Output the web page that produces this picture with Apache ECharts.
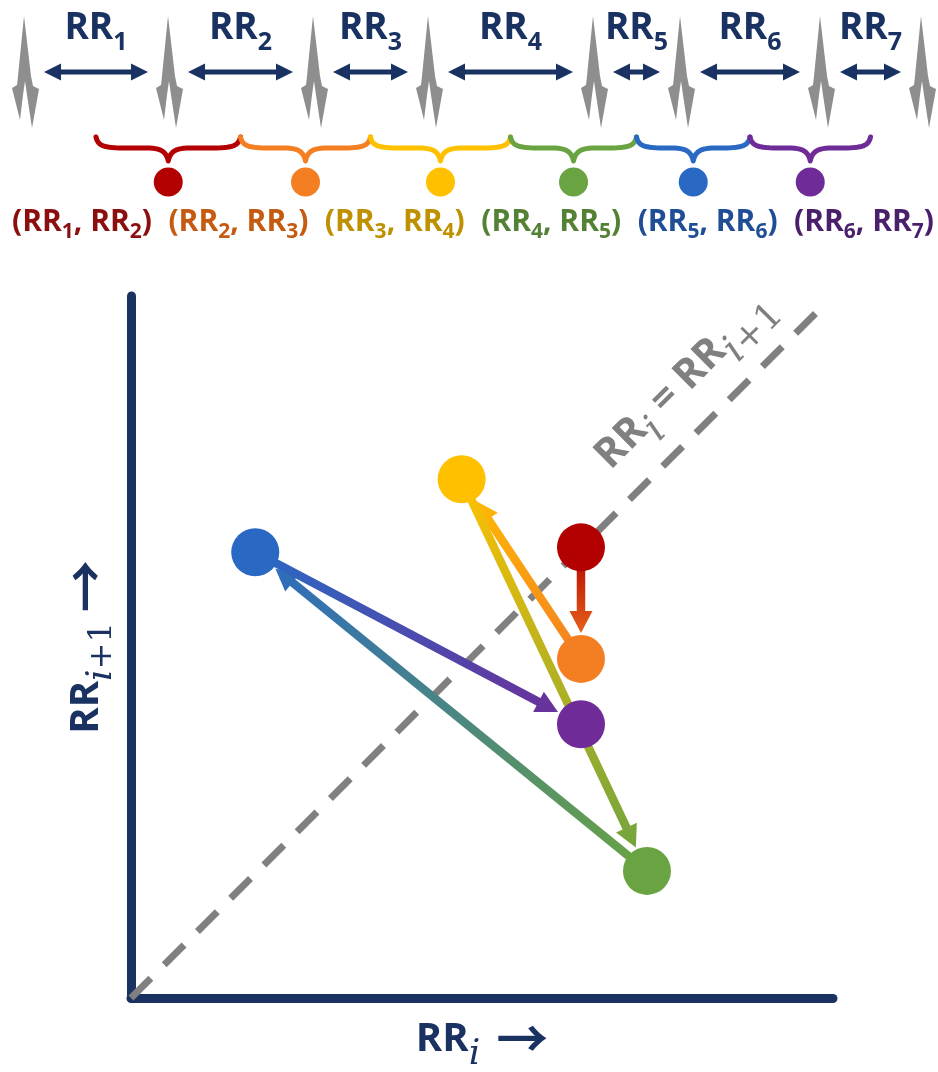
<!DOCTYPE html>
<html><head><meta charset="utf-8">
<script src="https://cdn.jsdelivr.net/npm/echarts@6/dist/echarts.min.js"></script>
<style>html,body{margin:0;padding:0;background:#fff}#chart{width:938px;height:1072px}</style>
</head><body><div id="chart"></div>
<script>
// ---------------- data ----------------
const beatTimes = [24, 168, 313, 428, 593, 680, 820, 921];       // R-peak positions on the ECG strip
const rrIndex = ['1', '2', '3', '4', '5', '6', '7'];               // RR interval numbers
const pairIndex = [['1','2'], ['2','3'], ['3','4'], ['4','5'], ['5','6'], ['6','7']];
const pairX = [6.41, 6.41, 4.71, 7.35, 1.77, 6.41];               // RR_i
const pairY = [6.42, 4.83, 7.39, 1.81, 6.35, 3.90];               // RR_{i+1}
const identityLine = [[0, 0], [9.8, 9.8]];                         // RR_i = RR_{i+1}
const labelAnchor = [[8.34, 8.34]];

// ---------------- styles ----------------
const dotColors  = ['#B30000', '#F47F22', '#FFC000', '#6AA342', '#2A69C3', '#6F2C98'];
const textColors = ['#8C0F0F', '#C55A11', '#BF9000', '#548235', '#1F4E96', '#4A1F6B'];
const NAVY = '#1A3261', SPIKE_GRAY = '#8E8E8E', DIAG_GRAY = '#808080';
const FONT = "'Open Sans', 'Noto Sans', sans-serif";
const SERIF = "'DejaVu Serif', 'Liberation Serif', serif";
const ARROWF = "'Noto Sans CJK SC', 'DejaVu Sans', sans-serif";

const SPIKE = [[0,16],[7,76],[9,86],[15,89],[8,128],[3,95],[1,81],[-1,95],[-4,120],[-12,88],[-7,85],[-6,76]];

function cubic(p0, p1, p2, p3, n) {
  const out = [];
  for (let k = 0; k <= n; k++) {
    const t = k / n, u = 1 - t;
    out.push([u*u*u*p0[0] + 3*u*u*t*p1[0] + 3*u*t*t*p2[0] + t*t*t*p3[0],
              u*u*u*p0[1] + 3*u*u*t*p1[1] + 3*u*t*t*p2[1] + t*t*t*p3[1]]);
  }
  return out;
}
function bracePts(x0, x1, top, flat, tip) {
  const xm = (x0 + x1) / 2;
  return [
    ...cubic([x0, top], [x0 + 2, flat - 1], [x0 + 10, flat], [x0 + 32, flat], 14),
    ...cubic([xm - 22, flat], [xm - 8, flat], [xm - 2, flat + 3], [xm, tip], 12),
    ...cubic([xm, tip], [xm + 2, flat + 3], [xm + 8, flat], [xm + 22, flat], 12),
    ...cubic([x1 - 32, flat], [x1 - 10, flat], [x1 - 2, flat - 1], [x1, top], 14)
  ];
}

const RICH_TOP = {
  a: {fontFamily: FONT, fontWeight: 'bold', fontSize: 37, verticalAlign: 'top', fill: NAVY},
  s: {fontFamily: FONT, fontWeight: 'bold', fontSize: 25, padding: [20, 0, 0, 0], verticalAlign: 'top', fill: NAVY}
};
const RICH_PAIR = {
  p: {fontFamily: FONT, fontWeight: 'bold', fontSize: 30, verticalAlign: 'top'},
  s: {fontFamily: FONT, fontWeight: 'bold', fontSize: 21, padding: [15, 0, 0, 0], verticalAlign: 'top'}
};
const RICH_DIAG = {
  a: {fontFamily: FONT, fontWeight: 'bold', fontSize: 41, verticalAlign: 'top', fill: DIAG_GRAY},
  i: {fontFamily: SERIF, fontStyle: 'italic', fontSize: 40, padding: [16, 0, 0, 0], verticalAlign: 'top', fill: DIAG_GRAY},
  n: {fontFamily: SERIF, fontSize: 36, padding: [19, 0, 0, 0], verticalAlign: 'top', fill: DIAG_GRAY}
};
function axisRich(gapW) {
  return {
    a: {fontFamily: FONT, fontWeight: 'bold', fontSize: 40, color: NAVY, padding: [9, 0, 0, 0], verticalAlign: 'top'},
    i: {fontFamily: SERIF, fontStyle: 'italic', fontSize: 36, color: NAVY, padding: [26, 0, 0, 0], verticalAlign: 'top'},
    n: {fontFamily: SERIF, fontSize: 32, color: NAVY, padding: [29, 0, 0, 0], verticalAlign: 'top'},
    g: {width: gapW, fontSize: 36, verticalAlign: 'top'},
    r: {fontFamily: ARROWF, fontWeight: 'bold', fontSize: 52, color: NAVY, padding: [1, 0, 0, 0], verticalAlign: 'top'}
  };
}

const mids = beatTimes.slice(0, -1).map((t, i) => (t + beatTimes[i + 1]) / 2);
const rrData = beatTimes.slice(0, -1).map((t, i) => [t, beatTimes[i + 1]]);
const braceData = mids.slice(0, -1).map((m, i) => [m, mids[i + 1]]);
const arrowData = pairX.slice(0, -1).map((x, i) => [pairX[i], pairY[i], pairX[i + 1], pairY[i + 1]]);
const dotData = pairX.map((x, i) => ({value: [x, pairY[i]], itemStyle: {color: dotColors[i], opacity: 1}}));

const chart = echarts.init(document.getElementById('chart'), null, {renderer: 'canvas'});

const option = {
  animation: false,
  backgroundColor: '#ffffff',
  grid: [
    {left: 0, top: 0, width: 938, height: 260, outerBoundsMode: 'none'},
    {left: 131, top: 296, width: 702, height: 702, outerBoundsMode: 'none'}
  ],
  xAxis: [
    {gridIndex: 0, type: 'value', min: 0, max: 938, show: false},
    {gridIndex: 1, type: 'value', min: 0, max: 10,
     axisLine: {show: true, onZero: false, lineStyle: {color: NAVY, width: 9}},
     axisTick: {show: false}, axisLabel: {show: false}, splitLine: {show: false},
     name: '{a|RR}{i|i}{g| }{r|→}', nameLocation: 'middle', nameGap: 13,
     nameTextStyle: {rich: axisRich(16)}}
  ],
  yAxis: [
    {gridIndex: 0, type: 'value', min: 0, max: 260, inverse: true, show: false},
    {gridIndex: 1, type: 'value', min: 0, max: 10,
     axisLine: {show: true, onZero: false, lineStyle: {color: NAVY, width: 9}},
     axisTick: {show: false}, axisLabel: {show: false}, splitLine: {show: false},
     name: '{a|RR}{i|i}{n|+1}{g| }{r|→}', nameLocation: 'middle', nameRotate: 90, nameGap: 11,
     nameTextStyle: {rich: axisRich(10)}}
  ],
  series: [
    // ECG spikes
    {type: 'custom', xAxisIndex: 0, yAxisIndex: 0, silent: true,
     data: beatTimes.map(t => [t, 0]),
     renderItem(params, api) {
       const p = api.coord([api.value(0), 0]);
       return {type: 'polygon', shape: {points: SPIKE.map(([dx, dy]) => [p[0] + dx, p[1] + dy])},
               style: {fill: SPIKE_GRAY}};
     }},
    // RR double arrows + labels
    {type: 'custom', xAxisIndex: 0, yAxisIndex: 0, silent: true,
     data: rrData,
     renderItem(params, api) {
       const a = api.coord([api.value(0), 72]), b = api.coord([api.value(1), 72]);
       const y = a[1], gap = 20, hl = 17, hw = 8.5;
       const x0 = a[0] + gap, x1 = b[0] - gap;
       const n = rrIndex[params.dataIndex];
       const top = api.coord([0, 10])[1];
       return {type: 'group', children: [
         {type: 'line', shape: {x1: x0 + hl - 1, y1: y, x2: x1 - hl + 1, y2: y}, style: {stroke: NAVY, lineWidth: 5}},
         {type: 'polygon', shape: {points: [[x0, y], [x0 + hl, y - hw], [x0 + hl, y + hw]]}, style: {fill: NAVY}},
         {type: 'polygon', shape: {points: [[x1, y], [x1 - hl, y - hw], [x1 - hl, y + hw]]}, style: {fill: NAVY}},
         {type: 'text', x: (x0 + x1) / 2, y: top,
          style: {text: '{a|RR}{s|' + n + '}', align: 'center', verticalAlign: 'top', fill: NAVY, rich: RICH_TOP}}
       ]};
     }},
    // braces, dots and pair labels
    {type: 'custom', xAxisIndex: 0, yAxisIndex: 0, silent: true,
     data: braceData,
     renderItem(params, api) {
       const i = params.dataIndex;
       const a = api.coord([api.value(0), 137]), b = api.coord([api.value(1), 137]);
       const flat = api.coord([0, 148])[1], tip = api.coord([0, 161])[1];
       const xm = (a[0] + b[0]) / 2;
       const cy = api.coord([0, 182])[1];
       const ly = api.coord([0, 207])[1];
       const lx = 82 + i * 156.4;
       const [p1, p2] = pairIndex[i];
       return {type: 'group', children: [
         {type: 'polyline', shape: {points: bracePts(a[0], b[0], a[1], flat, tip)},
          style: {stroke: dotColors[i], lineWidth: 5, lineJoin: 'round', lineCap: 'round', fill: null}},
         {type: 'circle', shape: {cx: xm, cy: cy, r: 14.5}, style: {fill: dotColors[i]}},
         {type: 'text', x: lx, y: ly,
          style: {text: '{p|(RR}{s|' + p1 + '}{p|, RR}{s|' + p2 + '}{p|)}', align: 'center', verticalAlign: 'top',
                  fill: textColors[i], rich: RICH_PAIR}}
       ]};
     }},
    // identity line
    {type: 'line', xAxisIndex: 1, yAxisIndex: 1, data: identityLine, symbol: 'none', silent: true, z: 1,
     lineStyle: {color: DIAG_GRAY, width: 7, type: [28, 19]}},
    // arrows between successive points
    {type: 'custom', xAxisIndex: 1, yAxisIndex: 1, silent: true, z: 2,
     data: arrowData,
     renderItem(params, api) {
       const i = params.dataIndex;
       const p0 = api.coord([api.value(0), api.value(1)]);
       const p1 = api.coord([api.value(2), api.value(3)]);
       const dx = p1[0] - p0[0], dy = p1[1] - p0[1], L = Math.hypot(dx, dy);
       const ux = dx / L, uy = dy / L, nx = -uy, ny = ux;
       const tipGap = 26, HL = 22, HW = 11.5;
       const tip = [p1[0] - ux * tipGap, p1[1] - uy * tipGap];
       const base = [tip[0] - ux * HL, tip[1] - uy * HL];
       const grad = new echarts.graphic.LinearGradient(p0[0], p0[1], p1[0], p1[1],
         [{offset: 0, color: dotColors[i]}, {offset: 1, color: dotColors[i + 1]}], true);
       return {type: 'group', children: [
         {type: 'line', shape: {x1: p0[0], y1: p0[1], x2: base[0] + ux * 2, y2: base[1] + uy * 2},
          style: {stroke: grad, lineWidth: 8.5}},
         {type: 'polygon', shape: {points: [tip, [base[0] + nx * HW, base[1] + ny * HW], [base[0] - nx * HW, base[1] - ny * HW]]},
          style: {fill: grad}}
       ]};
     }},
    // Poincaré points
    {type: 'scatter', xAxisIndex: 1, yAxisIndex: 1, symbolSize: 48, silent: true, z: 3,
     itemStyle: {opacity: 1}, data: dotData, emphasis: {disabled: true}},
    // identity label
    {type: 'custom', xAxisIndex: 1, yAxisIndex: 1, silent: true, z: 4,
     data: labelAnchor,
     renderItem(params, api) {
       const p = api.coord([api.value(0), api.value(1)]);
       return {type: 'text', x: p[0] - 27, y: p[1] - 27, rotation: Math.PI / 4,
               style: {text: '{a|RR}{i|i}{a| = RR}{i|i}{n|+1}', align: 'center', verticalAlign: 'middle',
                       fill: DIAG_GRAY, rich: RICH_DIAG}};
     }}
  ]
};
chart.setOption(option);
</script></body></html>
